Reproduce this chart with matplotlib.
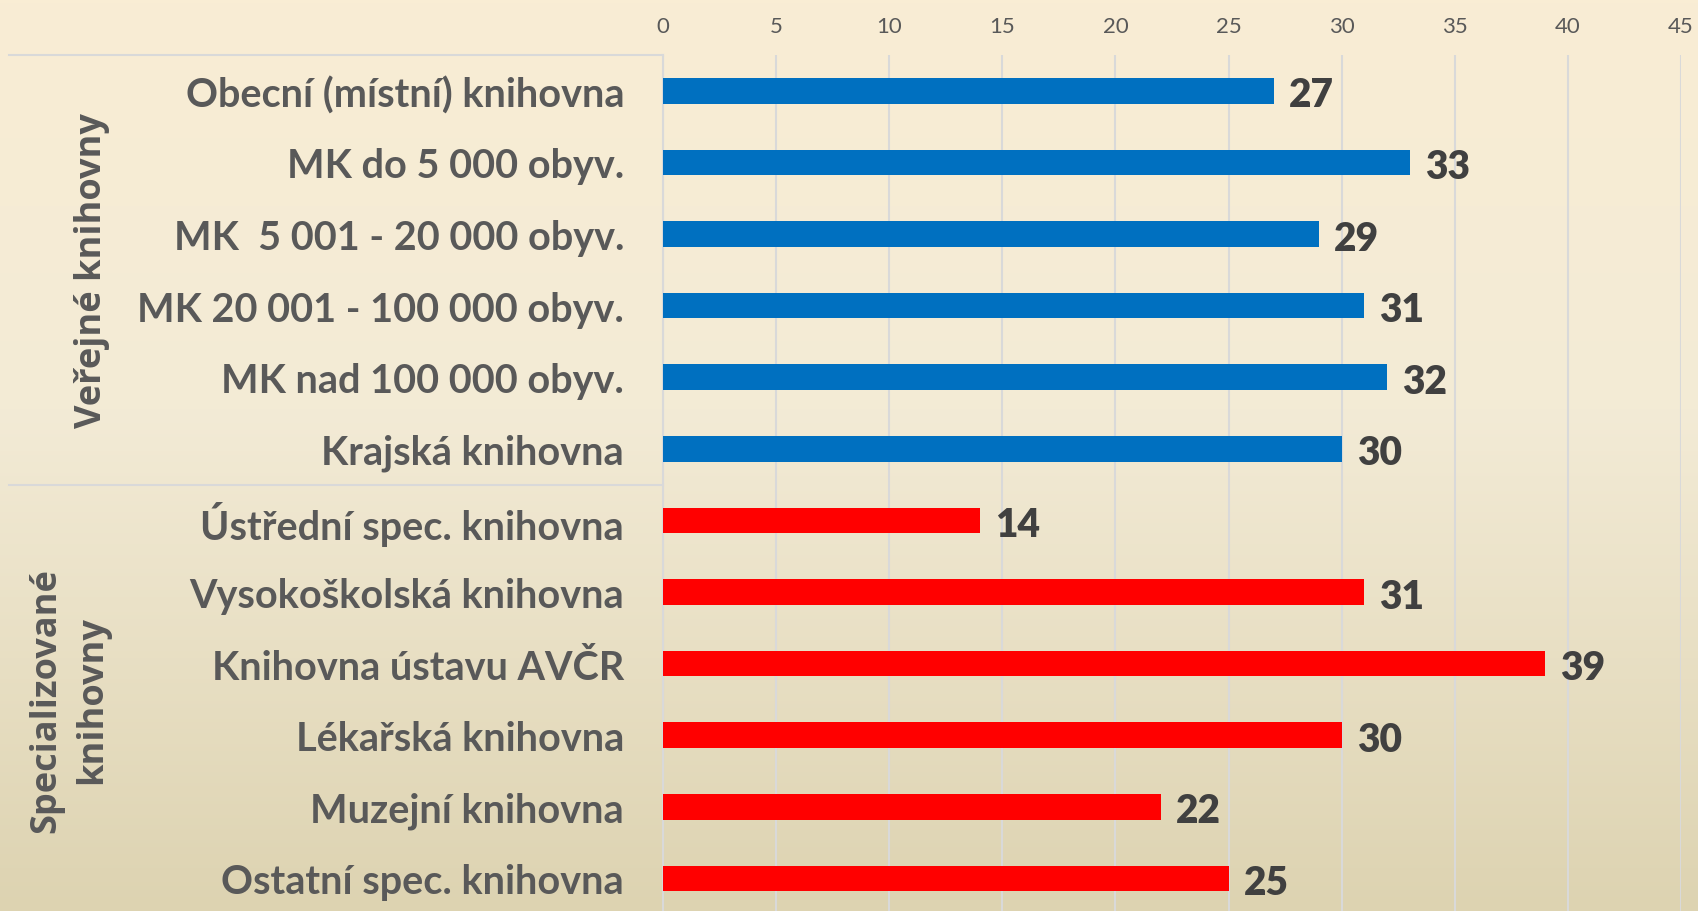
import matplotlib
matplotlib.use("Agg")
import matplotlib.pyplot as plt
import matplotlib.transforms as mtransforms
from matplotlib.colors import LinearSegmentedColormap
import numpy as np

categories = [
    "Obecní (místní) knihovna",
    "MK do 5 000 obyv.",
    "MK  5 001 - 20 000 obyv.",
    "MK 20 001 - 100 000 obyv.",
    "MK nad 100 000 obyv.",
    "Krajská knihovna",
    "Ústřední spec. knihovna",
    "Vysokoškolská knihovna",
    "Knihovna ústavu AVČR",
    "Lékařská knihovna",
    "Muzejní knihovna",
    "Ostatní spec. knihovna",
]
values = [27, 33, 29, 31, 32, 30, 14, 31, 39, 30, 22, 25]
group_names = ["Veřejné knihovny", "Specializované\nknihovny"]
group_sizes = [6, 6]
group_colors = ["#0070C0", "#FF0000"]
x_ticks = [0, 5, 10, 15, 20, 25, 30, 35, 40, 45]

W, H = 1698, 912
fig = plt.figure(figsize=(W / 100, H / 100), dpi=100)

# background gradient
bg = fig.add_axes([0, 0, 1, 1], zorder=-10)
bg.set_axis_off()
cmap = LinearSegmentedColormap.from_list(
    "bg", [(0.0, "#F9EDD4"), (0.45, "#F3EBD6"), (1.0, "#DDD3B1")])
grad = np.linspace(0, 1, 256).reshape(-1, 1)
bg.imshow(grad, aspect="auto", cmap=cmap, extent=[0, 1, 0, 1], origin="upper")
bg.set_xlim(0, 1)
bg.set_ylim(0, 1)

left = 663 / W
right = 1681 / W
top_px = 56
spacing = 71.6
height_px = spacing * len(categories)
ax = fig.add_axes([left, 1 - (top_px + height_px) / H, right - left, height_px / H])
ax.patch.set_alpha(0)

colors = []
for c, n in zip(group_colors, group_sizes):
    colors += [c] * n
ypos = np.arange(len(categories))
ax.barh(ypos, values, height=0.36, color=colors, zorder=3)
ax.set_xlim(0, 45)
ax.set_ylim(len(categories) - 0.5, -0.5)
ax.set_xticks(x_ticks)
ax.xaxis.tick_top()
ax.tick_params(axis="x", length=0, pad=14, labelsize=16, labelcolor="#595959")
for lab in ax.get_xticklabels():
    lab.set_family(["Lato", "DejaVu Sans"])
ax.grid(axis="x", color="#D9D9D9", lw=1.5, zorder=0)
ax.set_yticks(ypos)
ax.set_yticklabels(categories)
ax.tick_params(axis="y", length=0, pad=28)
for lab in ax.get_yticklabels():
    lab.set_family(["Lato", "DejaVu Sans"])
    lab.set_fontweight("bold")
    lab.set_fontsize(28.5)
    lab.set_color("#595959")
for s in ["top", "right", "bottom"]:
    ax.spines[s].set_visible(False)
ax.spines["left"].set_color("#D9D9D9")
ax.spines["left"].set_linewidth(1.5)

for y, v in zip(ypos, values):
    ax.annotate(str(v), xy=(v, y), xytext=(11, -3), textcoords="offset points",
                ha="left", va="center", fontsize=28, fontweight="heavy",
                color="#404040", family=["Lato", "DejaVu Sans"])

# group separators and labels
tr = mtransforms.blended_transform_factory(fig.transFigure, ax.transData)
x0, x1 = 9 / W, left
start = -0.5
ax.plot([x0, x1], [start, start], transform=tr, color="#D9D9D9", lw=1.5, clip_on=False)
for name, n in zip(group_names, group_sizes):
    end = start + n
    center = (start + end) / 2
    if end < len(categories) - 0.5:
        ax.plot([x0, x1], [end, end], transform=tr, color="#D9D9D9", lw=1.5, clip_on=False)
    ax.text(110 / W, center, name, transform=tr, rotation=90, ha="right", va="center",
            multialignment="center", linespacing=1.35, fontsize=26, fontweight="bold",
            color="#595959", family=["Open Sans", "DejaVu Sans"])
    start = end

fig.savefig("out.png", dpi=100)
